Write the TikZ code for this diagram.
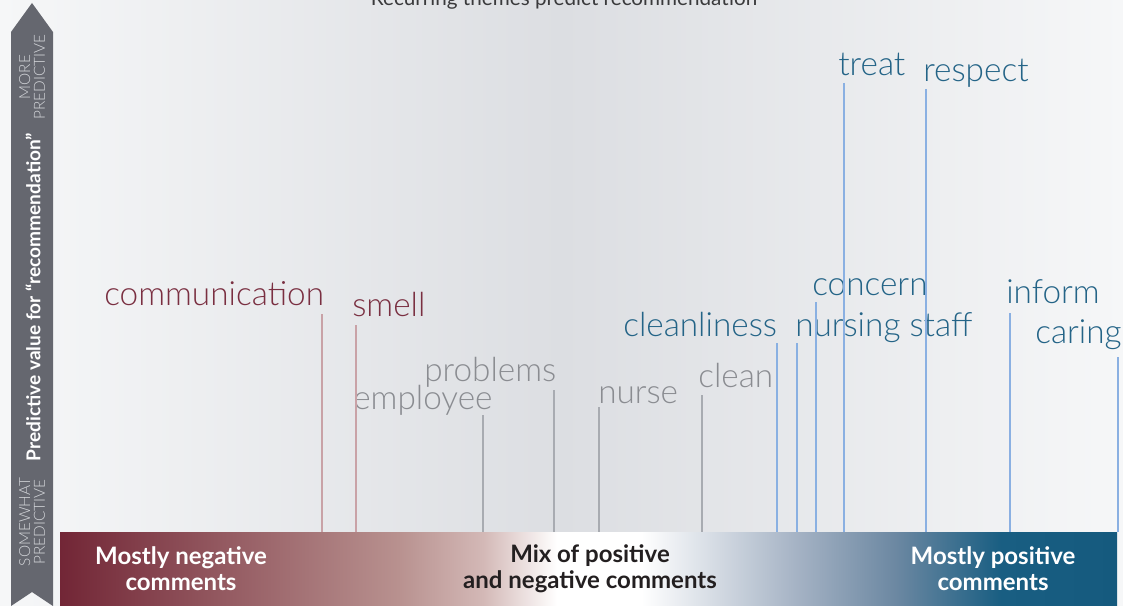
\documentclass[tikz,border=0pt]{standalone}
\usepackage{fontspec}
\setmainfont{Lato}
\setsansfont{Lato}
\newfontfamily\wordfont{Lato Light}
\usetikzlibrary{calc}
\definecolor{negtext}{HTML}{7A2F41}
\definecolor{negline}{HTML}{C9A2A7}
\definecolor{graytext}{HTML}{8A8C91}
\definecolor{grayline}{HTML}{A8ABB1}
\definecolor{postext}{HTML}{246487}
\definecolor{posline}{HTML}{8AB0E2}
\definecolor{arrowgray}{HTML}{65676F}
\definecolor{arrowtext}{HTML}{D4D6DA}
\definecolor{bgside}{HTML}{F6F7F8}
\definecolor{bgmid}{HTML}{DCDEE2}
\definecolor{titlegray}{HTML}{3A3A3C}
\definecolor{mixtext}{HTML}{231F20}
\definecolor{b0}{HTML}{722636}
\definecolor{b1}{HTML}{B8918F}
\definecolor{b2}{HTML}{D3B8B6}
\definecolor{b3}{HTML}{A3B1C3}
\definecolor{b4}{HTML}{6C88A2}
\definecolor{b5}{HTML}{195E82}
\definecolor{b6}{HTML}{155A7E}
\pgfdeclarehorizontalshading{barshade}{100bp}{color(0bp)=(b0); color(25bp)=(b0); color(41bp)=(b1); color(45bp)=(b2); color(48.5bp)=(white); color(52.5bp)=(white); color(60bp)=(b3); color(64.5bp)=(b4); color(69.5bp)=(b5); color(75bp)=(b6); color(100bp)=(b6)}
\tikzset{
  word/.style={anchor=base west, inner sep=0pt, font=\wordfont\fontsize{25}{25}\selectfont},
  negword/.style={word, text=negtext},
  grayword/.style={word, text=graytext},
  posword/.style={word, text=postext},
  negstem/.style={draw=negline, line width=0.9pt},
  graystem/.style={draw=grayline, line width=0.9pt},
  posstem/.style={draw=posline, line width=0.9pt},
  barlabel/.style={align=center, inner sep=0pt, font=\fontsize{18}{19.5}\selectfont\bfseries},
  axislabel/.style={rotate=90, align=center, inner sep=0pt, text=arrowtext, font=\wordfont\fontsize{11.5}{11}\selectfont}
}
\begin{document}
\begin{tikzpicture}[x=0.75pt,y=-0.75pt]
\useasboundingbox (0,0) rectangle (1123,606);
% background
\shade[left color=bgside, right color=bgside, middle color=bgmid] (0,0) rectangle (1123,606);
% title (cut off at top, as in the source)
\node[anchor=base, inner sep=0pt, text=titlegray, font=\fontsize{15.5}{15.5}\selectfont] (title) at (564,6) {Recurring themes predict recommendation};
% left axis arrow
\fill[arrowgray] (11,606) -- (11,32) -- (32,3) -- (53,32) -- (53,606) -- (32,592) -- cycle;
\node[axislabel] (more) at (32,77) {MORE\\PREDICTIVE};
\node[axislabel] (somewhat) at (32,522) {SOMEWHAT\\PREDICTIVE};
\node[rotate=90, inner sep=0pt, text=white, font=\fontsize{14.3}{14.3}\selectfont\bfseries] (axis) at (33,297) {Predictive value for “recommendation”};
% bottom bar
\path[shading=barshade] (60,532) rectangle (1117,606);
\node[inner sep=0pt, minimum width=1057*0.75pt, minimum height=74*0.75pt] (bar) at (588.5,569) {};
\node[barlabel, text=white] (neg) at (181,569) {Mostly negative\\comments};
\node[barlabel, text=mixtext] (mix) at (590,569) {Mix of positive\\and negative comments};
\node[barlabel, text=white] (pos) at (993,569) {Mostly positive\\comments};
% words
\node[negword] (communication) at (104,305) {communication};
\node[negword] (smell) at (352,316) {smell};
\node[grayword] (employee) at (353,409) {employee};
\node[grayword] (problems) at (424,381) {problems};
\node[grayword] (nurse) at (598,403) {nurse};
\node[grayword] (clean) at (698,387) {clean};
\node[posword] (cleanliness) at (623,336) {cleanliness};
\node[posword] (nursingstaff) at (795,336) {nursing staff};
\node[posword] (concern) at (812,295) {concern};
\node[posword] (treat) at (838,76) {treat};
\node[posword] (respect) at (923,82) {respect};
\node[posword] (inform) at (1006,303) {inform};
\node[posword] (caring) at (1035,343) {caring};
% stems
\coordinate (s1) at (322,314);
\coordinate (s2) at (356,325);
\coordinate (s3) at (483,415);
\coordinate (s4) at (554,390);
\coordinate (s5) at (599,407);
\coordinate (s6) at (702,395);
\coordinate (s7) at (777,343);
\coordinate (s8) at (797,343);
\coordinate (s9) at (816,302);
\coordinate (s10) at (844,83);
\coordinate (s11) at (926,89);
\coordinate (s12) at (1010,313);
\coordinate (s13) at (1118,357);
\draw[negstem] (s1) -- (s1 |- bar.north);
\draw[negstem] (s2) -- (s2 |- bar.north);
\draw[graystem] (s3) -- (s3 |- bar.north);
\draw[graystem] (s4) -- (s4 |- bar.north);
\draw[graystem] (s5) -- (s5 |- bar.north);
\draw[graystem] (s6) -- (s6 |- bar.north);
\draw[posstem] (s7) -- (s7 |- bar.north);
\draw[posstem] (s8) -- (s8 |- bar.north);
\draw[posstem] (s9) -- (s9 |- bar.north);
\draw[posstem] (s10) -- (s10 |- bar.north);
\draw[posstem] (s11) -- (s11 |- bar.north);
\draw[posstem] (s12) -- (s12 |- bar.north);
\draw[posstem] (s13) -- (s13 |- bar.north);
\end{tikzpicture}
\end{document}
